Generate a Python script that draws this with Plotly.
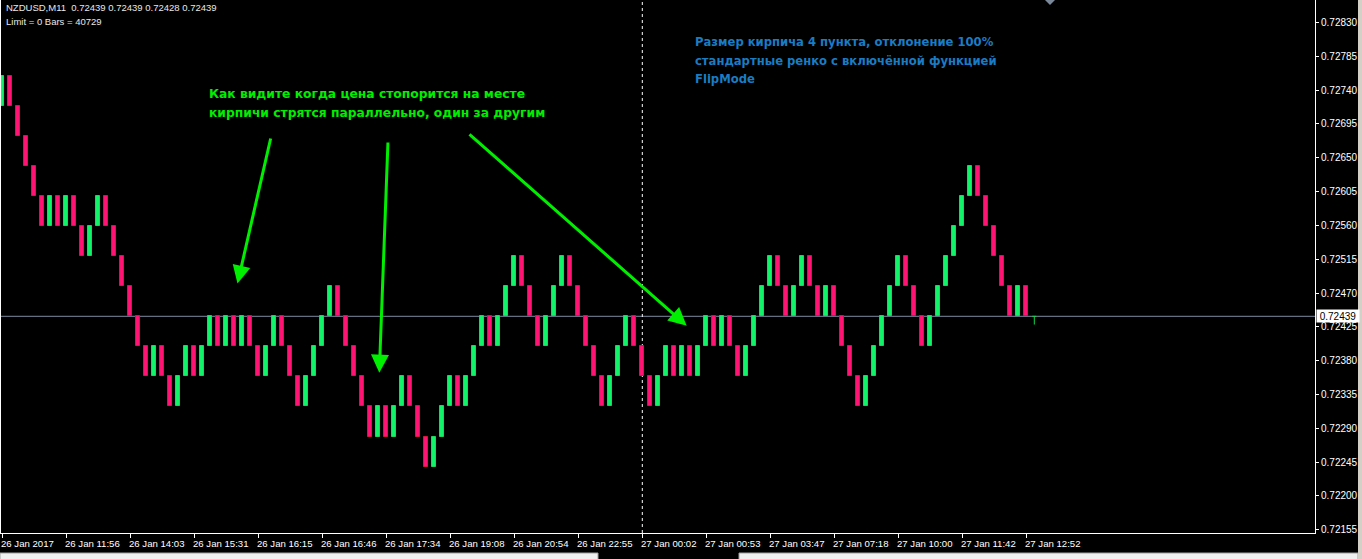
import plotly.graph_objects as go

# ---------------- data ----------------
BASE = 0.72439          # price of the band edge that coincides with the last close
BRICK = 0.0004          # brick size (4 pips)

# band index of each brick (bottom = BASE + band*BRICK) and direction (1 up / -1 down)
brick_band = [7, 7, 6, 5, 4, 3, 3, 3, 3, 3,
              2, 2, 3, 3, 2, 1, 0, -1, -2, -2,
              -2, -3, -3, -2, -2, -2, -1, -1, -1, -1,
              -1, -1, -2, -2, -1, -1, -2, -3, -3, -2,
              -1, 0, 0, -1, -2, -3, -4, -4, -4, -4,
              -3, -3, -4, -5, -5, -4, -3, -3, -3, -2,
              -1, -1, -1, 0, 1, 1, 0, -1, -1, 0,
              1, 1, 0, -1, -2, -3, -3, -2, -1, -1,
              -2, -3, -3, -2, -2, -2, -2, -2, -1, -1,
              -1, -1, -2, -2, -1, 0, 1, 1, 0, 0,
              1, 1, 0, 0, 0, -1, -2, -3, -3, -2,
              -1, 0, 1, 1, 0, -1, -1, 0, 1, 2,
              3, 4, 4, 3, 2, 1, 0, 0, 0]
brick_dir = [1, -1, -1, -1, -1, -1, 1, -1, 1, -1,
             -1, 1, 1, -1, -1, -1, -1, -1, -1, 1,
             -1, -1, 1, 1, -1, 1, 1, -1, 1, -1,
             1, -1, -1, 1, 1, -1, -1, -1, 1, 1,
             1, 1, -1, -1, -1, -1, -1, 1, -1, 1,
             1, -1, -1, -1, 1, 1, 1, -1, 1, 1,
             1, -1, 1, 1, 1, -1, -1, -1, 1, 1,
             1, -1, -1, -1, -1, -1, 1, 1, 1, -1,
             -1, -1, 1, 1, -1, 1, -1, 1, 1, -1,
             1, -1, -1, 1, 1, 1, 1, -1, -1, 1,
             1, -1, -1, 1, -1, -1, -1, -1, 1, 1,
             1, 1, 1, -1, -1, -1, 1, 1, 1, 1,
             1, 1, -1, -1, -1, -1, -1, 1, -1]

# current (forming) bar
cur_open, cur_high, cur_low, cur_close = 0.72439, 0.72439, 0.72428, 0.72439
cur_index = 129

price_ticks = [0.72155, 0.72200, 0.72245, 0.72290, 0.72335, 0.72380, 0.72425,
               0.72470, 0.72515, 0.72560, 0.72605, 0.72650, 0.72695, 0.72740,
               0.72785, 0.72830]
time_cols = [0, 8, 16, 24, 32, 40, 48, 56, 64, 72, 80, 88, 96, 104, 112, 120, 128]
time_labels = ["26 Jan 2017", "26 Jan 11:56", "26 Jan 14:03", "26 Jan 15:31",
               "26 Jan 16:15", "26 Jan 16:46", "26 Jan 17:34", "26 Jan 19:08",
               "26 Jan 20:54", "26 Jan 22:55", "27 Jan 00:02", "27 Jan 00:53",
               "27 Jan 03:47", "27 Jan 07:18", "27 Jan 10:00", "27 Jan 11:42",
               "27 Jan 12:52"]
separator_col = 80

header1 = "NZDUSD,M11  0.72439 0.72439 0.72428 0.72439"
header2 = "Limit = 0 Bars = 40729"
note_green = ["Как видите когда цена стопорится на месте",
              "кирпичи стрятся параллельно, один за другим"]
note_blue = ["Размер кирпича 4 пункта, отклонение 100%",
             "стандартные ренко с включённой функцией",
             "FlipMode"]

# ---------------- layout geometry ----------------
W, H = 1362, 559
PL, PR, PT, PB = 1, 1315, 0, 533     # plot area in pixels
X0, DX = 2.3, 8.0                    # pixel centre of column 0, pixels per column
Y_REF, PPU = 316.3, 75156.0          # pixel of BASE, pixels per price unit


def px2col(px):
    return (px - X0) / DX


def py2price(py):
    return BASE - (py - Y_REF) / PPU


def pxp(px):
    return (px - PL) / (PR - PL)


def pyp(py):
    return (PB - py) / (PB - PT)


up_x, up_base, dn_x, dn_base = [], [], [], []
for i, (b, d) in enumerate(zip(brick_band, brick_dir)):
    if d > 0:
        up_x.append(i); up_base.append(BASE + b * BRICK)
    else:
        dn_x.append(i); dn_base.append(BASE + b * BRICK)

fig = go.Figure()
fig.add_trace(go.Bar(x=up_x, y=[BRICK] * len(up_x), base=up_base, width=0.5,
                     marker=dict(color="#12F36A", line=dict(color="#1ED45A", width=1)),
                     hoverinfo="skip", showlegend=False))
fig.add_trace(go.Bar(x=dn_x, y=[BRICK] * len(dn_x), base=dn_base, width=0.5,
                     marker=dict(color="#FF1473", line=dict(color="#DC143C", width=1)),
                     hoverinfo="skip", showlegend=False))
# current forming bar (wick + flat body)
fig.add_trace(go.Scatter(x=[cur_index, cur_index, None, cur_index - 0.25, cur_index + 0.25],
                         y=[cur_high, cur_low, None, cur_open, cur_close],
                         mode="lines", line=dict(color="#12D84A", width=1),
                         hoverinfo="skip", showlegend=False))

shapes = []
# current price line
shapes.append(dict(type="line", xref="paper", yref="y", x0=0, x1=1, y0=cur_close, y1=cur_close,
                   line=dict(color="#7D8BA0", width=1), layer="below"))
# day separator
shapes.append(dict(type="line", xref="x", yref="paper", x0=separator_col, x1=separator_col,
                   y0=0, y1=1, line=dict(color="#FFFFFF", width=1, dash="3px,3px"), layer="below"))
# small grey marker at top
shapes.append(dict(type="path", xref="paper", yref="paper",
                   path=f"M {pxp(1045)} {pyp(0)} L {pxp(1055)} {pyp(0)} L {pxp(1050)} {pyp(5)} Z",
                   fillcolor="#7B8899", line=dict(width=0)))
# bottom strips and right border (window chrome)
shapes.append(dict(type="rect", xref="paper", yref="paper", x0=pxp(0), x1=pxp(598),
                   y0=pyp(553), y1=pyp(560), fillcolor="#F0F0F0", line=dict(color="#A0A0A0", width=1)))
shapes.append(dict(type="rect", xref="paper", yref="paper", x0=pxp(739), x1=pxp(1358),
                   y0=pyp(553), y1=pyp(560), fillcolor="#F0F0F0", line=dict(color="#A0A0A0", width=1)))
shapes.append(dict(type="rect", xref="paper", yref="paper", x0=pxp(1358), x1=pxp(1363),
                   y0=pyp(560), y1=pyp(-1), fillcolor="#D4D0C8", line=dict(width=0)))

ann = []
FONT = "Liberation Sans, Arial, sans-serif"
ann.append(dict(xref="paper", yref="paper", x=pxp(4), y=pyp(7), xanchor="left", yanchor="middle",
                text=header1, showarrow=False, font=dict(family=FONT, size=9.5, color="#E8E8E8")))
ann.append(dict(xref="paper", yref="paper", x=pxp(4), y=pyp(21), xanchor="left", yanchor="middle",
                text=header2, showarrow=False, font=dict(family=FONT, size=9.5, color="#E8E8E8")))
for k, (txt, py) in enumerate(zip(note_green, [94, 113])):
    ann.append(dict(xref="paper", yref="paper", x=pxp(207), y=pyp(py), xanchor="left", yanchor="middle",
                    text=f"<b>{txt}</b>", showarrow=False,
                    font=dict(family="DejaVu Sans", size=12.3, color="#00EE00")))
for k, (txt, py) in enumerate(zip(note_blue, [42, 61, 79])):
    ann.append(dict(xref="paper", yref="paper", x=pxp(693), y=pyp(py), xanchor="left", yanchor="middle",
                    text=f"<b>{txt}</b>", showarrow=False,
                    font=dict(family="DejaVu Sans", size=11.6, color="#1A7CC4")))
# arrows (tail -> head, pixel positions converted to data coords)
for (tx, ty, hx, hy) in [(271, 137, 237.5, 283.5), (388, 141, 379.3, 372.7), (468, 133, 686.7, 325.7)]:
    ann.append(dict(xref="x", yref="y", axref="x", ayref="y",
                    x=px2col(hx), y=py2price(hy), ax=px2col(tx), ay=py2price(ty),
                    text="", showarrow=True, arrowhead=2, arrowsize=1.2, arrowwidth=3,
                    arrowcolor="#00EE00"))
# time labels
for c, lab in zip(time_cols, time_labels):
    ann.append(dict(xref="x", yref="paper", x=c, y=pyp(543), xanchor="left", yanchor="middle",
                    xshift=-3, text=lab, showarrow=False,
                    font=dict(family=FONT, size=9.6, color="#FFFFFF")))
# current price tag on axis
ann.append(dict(xref="paper", yref="y", x=1, y=cur_close, xanchor="left", yanchor="middle",
                xshift=1, text=f"{cur_close:.5f}", showarrow=False, bgcolor="#FFFFFF",
                width=40, height=10, align="center", borderpad=1,
                font=dict(family=FONT, size=10, color="#000000")))

fig.update_layout(
    width=W, height=H,
    margin=dict(l=PL, r=W - PR, t=PT, b=H - PB, pad=0),
    paper_bgcolor="#000000", plot_bgcolor="#000000",
    barmode="overlay", bargap=0,
    shapes=shapes, annotations=ann,
    xaxis=dict(range=[px2col(PL), px2col(PR)], showgrid=False, zeroline=False,
               showline=True, linecolor="#FFFFFF", linewidth=1,
               tickmode="array", tickvals=time_cols, ticks="outside", ticklen=4,
               tickcolor="#FFFFFF", showticklabels=False, fixedrange=True),
    yaxis=dict(range=[py2price(PB), py2price(PT)], side="right", showgrid=False, zeroline=False,
               showline=True, mirror=True, linecolor="#FFFFFF", linewidth=1,
               tickmode="array", tickvals=price_ticks,
               ticktext=[f"{v:.5f}" for v in price_ticks],
               ticks="outside", ticklen=3, tickcolor="#FFFFFF",
               tickfont=dict(family=FONT, size=10, color="#FFFFFF"), fixedrange=True),
)

fig.write_html("out.html")
